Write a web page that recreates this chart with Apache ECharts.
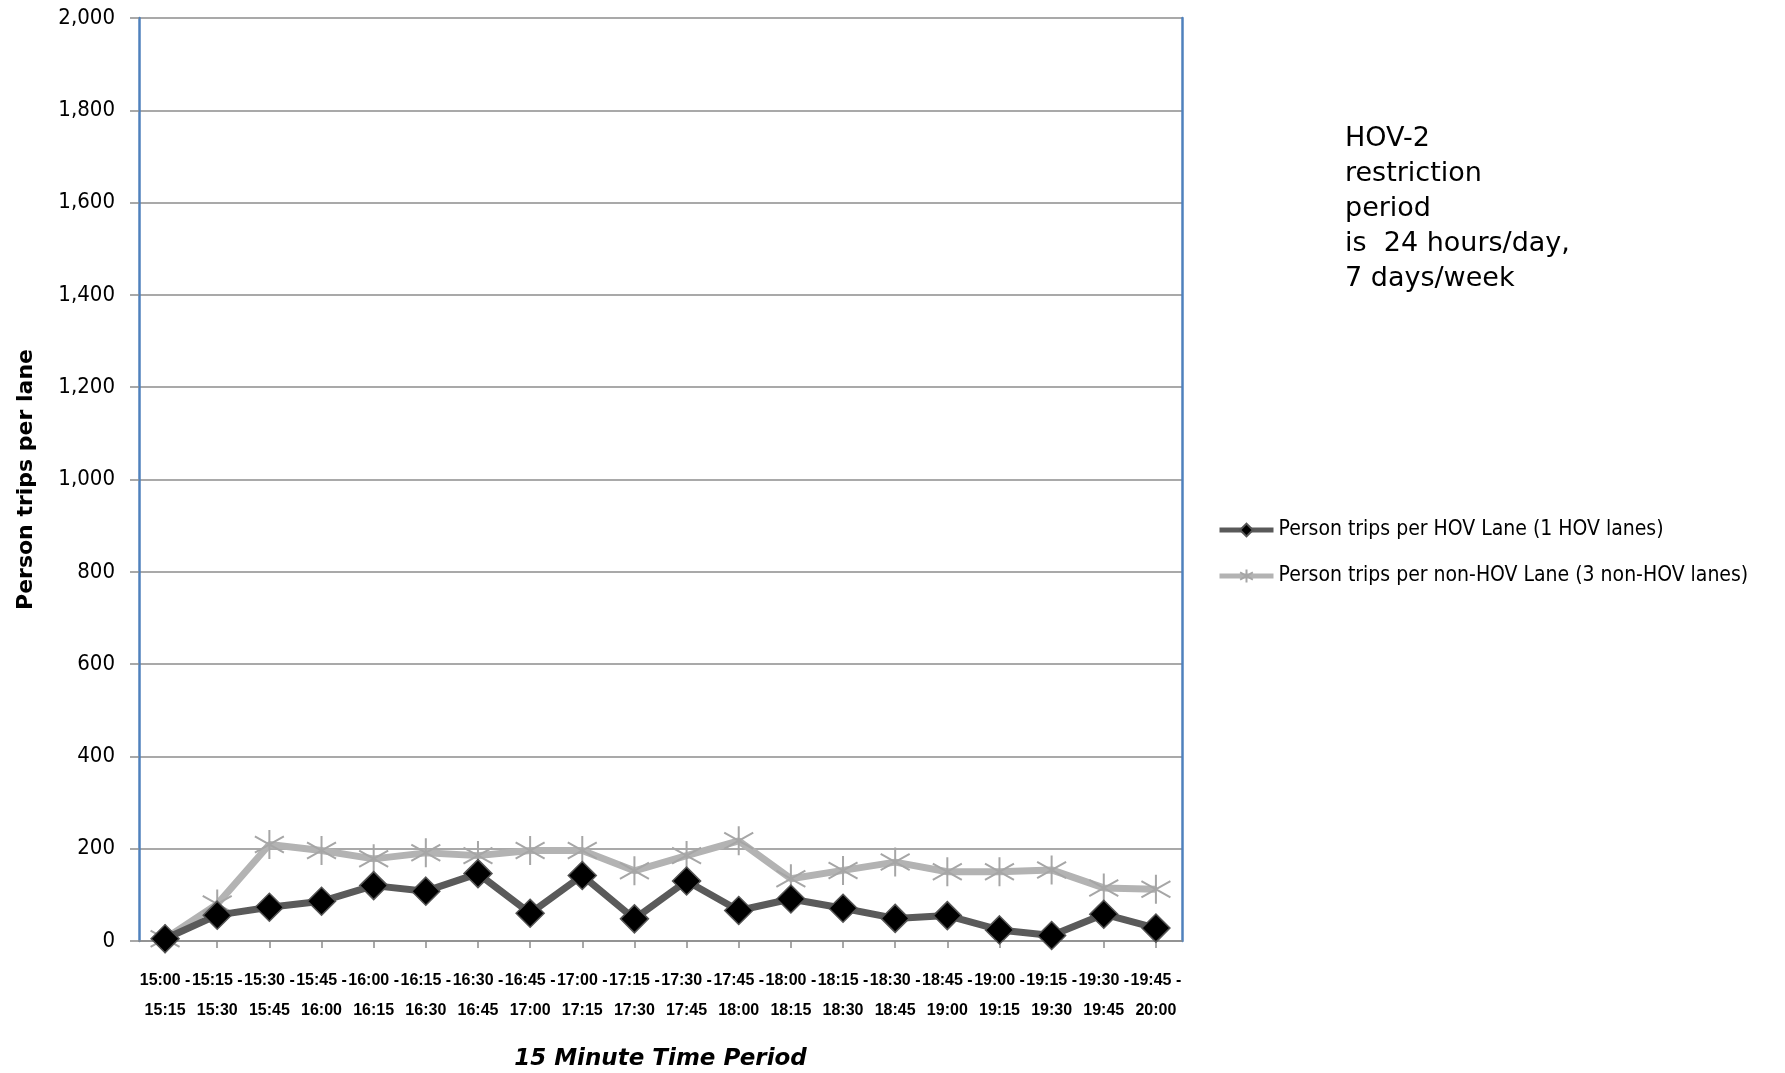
<!DOCTYPE html>
<html>
<head>
<meta charset="utf-8">
<script src="https://cdn.jsdelivr.net/npm/echarts@6/dist/echarts.min.js"></script>
<style>
html,body{margin:0;padding:0;background:#fff;}
#chart{width:1785px;height:1073px;}
</style>
</head>
<body>
<div id="chart"></div>
<script>
var periodStart = ['15:00','15:15','15:30','15:45','16:00','16:15','16:30','16:45','17:00','17:15','17:30','17:45','18:00','18:15','18:30','18:45','19:00','19:15','19:30','19:45'];
var periodEnd   = ['15:15','15:30','15:45','16:00','16:15','16:30','16:45','17:00','17:15','17:30','17:45','18:00','18:15','18:30','18:45','19:00','19:15','19:30','19:45','20:00'];
var hovTrips    = [5, 56, 73, 86, 120, 108, 146, 60, 142, 48, 130, 66, 91, 71, 49, 55, 24, 12, 58, 28];
var nonHovTrips = [5, 80, 209, 196, 178, 191, 185, 196, 196, 152, 185, 217, 135, 153, 171, 150, 150, 154, 115, 112];
var yTicks = [0, 200, 400, 600, 800, 1000, 1200, 1400, 1600, 1800, 2000];
var seriesNames = ['Person trips per HOV Lane (1 HOV lanes)', 'Person trips per non-HOV Lane (3 non-HOV lanes)'];
var noteText = 'HOV-2\nrestriction\nperiod\nis  24 hours/day,\n7 days/week';

var categories = periodStart.map(function (s, i) { return s + ' -\n' + periodEnd[i]; });
var narrow = '"DejaVu Sans Condensed", "Liberation Sans Narrow", sans-serif';
var asterisk = 'path://M50,0 L50,100 M6,22 L94,78 M6,78 L94,22';

var chart = echarts.init(document.getElementById('chart'));
chart.setOption({
  animation: false,
  backgroundColor: '#ffffff',
  title: {
    text: noteText,
    left: 1340,
    top: 116,
    textStyle: { fontFamily: '"DejaVu Sans", sans-serif', fontSize: 27, fontWeight: 'normal', lineHeight: 35, color: '#000' }
  },
  legend: {
    orient: 'vertical',
    left: 1212,
    top: 513,
    itemWidth: 54,
    itemHeight: 16,
    itemGap: 22,
    data: seriesNames,
    lineStyle: { width: 5 },
    textStyle: { fontFamily: narrow, fontSize: 21, lineHeight: 24, color: '#000' }
  },
  grid: { left: 139, right: 603, top: 18, bottom: 132, containLabel: false, outerBoundsMode: 'none' },
  xAxis: {
    type: 'category',
    data: categories,
    boundaryGap: true,
    name: '15 Minute Time Period',
    nameLocation: 'middle',
    nameGap: 107,
    nameTextStyle: { fontFamily: '"DejaVu Sans", sans-serif', fontSize: 23, fontWeight: 'bold', fontStyle: 'italic', color: '#000' },
    axisLine: { show: true, lineStyle: { color: '#8c8c8c', width: 1.5 } },
    axisTick: { show: true, alignWithLabel: true, length: 7, lineStyle: { color: '#8c8c8c', width: 1.5 } },
    axisLabel: { interval: 0, margin: 25, fontFamily: '"Liberation Sans", sans-serif', fontSize: 16, fontWeight: 'bold', lineHeight: 30, color: '#000' },
    splitLine: { show: false }
  },
  yAxis: [{
    type: 'value',
    min: 0,
    max: 2000,
    interval: 200,
    name: 'Person trips per lane',
    nameLocation: 'middle',
    nameGap: 102,
    nameTextStyle: { fontFamily: '"DejaVu Sans", sans-serif', fontSize: 22, fontWeight: 'bold', color: '#000' },
    axisLine: { show: true, lineStyle: { color: '#4f81bd', width: 2.5 } },
    axisTick: { show: true, inside: false, length: 9, lineStyle: { color: '#8c8c8c', width: 1.5 } },
    axisLabel: {
      margin: 24, fontFamily: narrow, fontSize: 22, color: '#000',
      formatter: function (v) { return yTicks.indexOf(v) >= 0 ? v.toLocaleString('en-US') : ''; }
    },
    splitLine: { show: true, lineStyle: { color: '#8c8c8c', width: 1.5 } }
  }, {
    type: 'value',
    min: 0,
    max: 2000,
    interval: 200,
    position: 'right',
    axisLine: { show: true, lineStyle: { color: '#4f81bd', width: 2.5 } },
    axisTick: { show: false },
    axisLabel: { show: false },
    splitLine: { show: false }
  }],
  series: [{
    name: seriesNames[0],
    type: 'line',
    data: hovTrips,
    symbol: 'diamond',
    symbolSize: 28,
    z: 3,
    lineStyle: { color: '#5a5a5a', width: 7 },
    itemStyle: { color: '#000000', borderColor: '#555555', borderWidth: 1.5 }
  }, {
    name: seriesNames[1],
    type: 'line',
    data: nonHovTrips,
    symbol: asterisk,
    symbolSize: 29,
    z: 2,
    lineStyle: { color: '#b3b3b3', width: 7 },
    itemStyle: { color: 'rgba(0,0,0,0)', borderColor: '#a6a6a6', borderWidth: 2 }
  }]
});
</script>
</body>
</html>
